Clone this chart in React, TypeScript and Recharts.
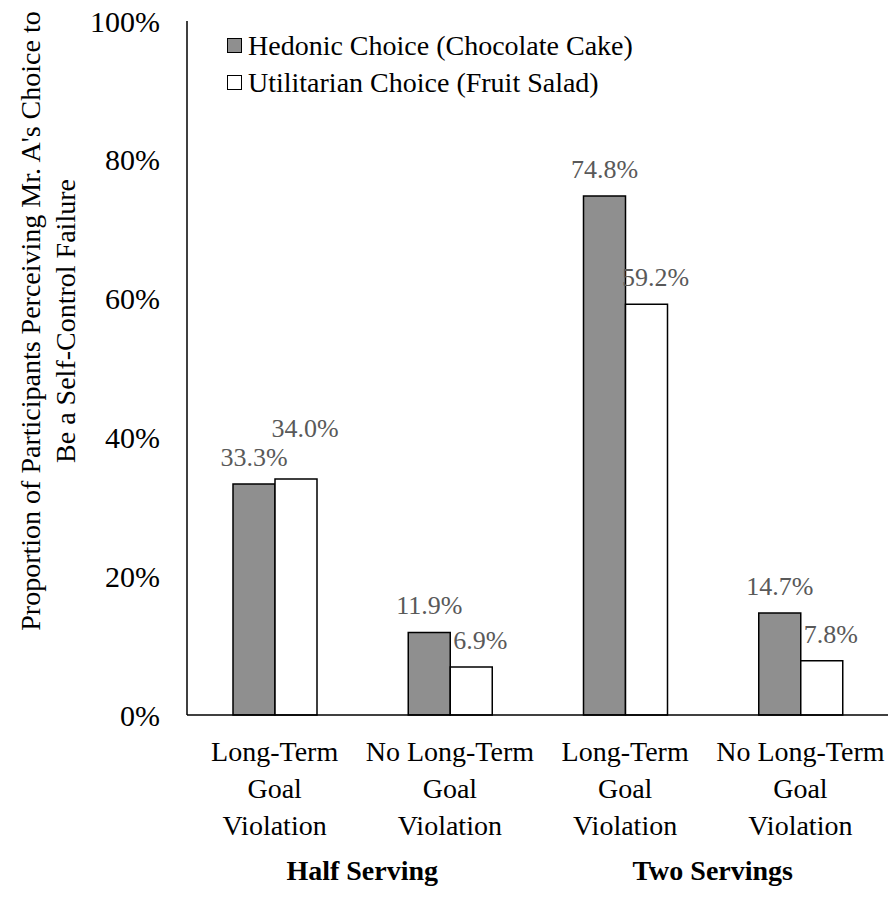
import React from "react";
import { BarChart, Bar, XAxis, YAxis, Legend, LabelList } from "recharts";

const categories = [
  "Long-Term Goal Violation",
  "No Long-Term Goal Violation",
  "Long-Term Goal Violation",
  "No Long-Term Goal Violation",
];
const tickLines = [
  ["Long-Term", "Goal", "Violation"],
  ["No Long-Term", "Goal", "Violation"],
  ["Long-Term", "Goal", "Violation"],
  ["No Long-Term", "Goal", "Violation"],
];
const groups = ["Half Serving", "Half Serving", "Two Servings", "Two Servings"];
const hedonic = [0.333, 0.119, 0.748, 0.147];
const utilitarian = [0.34, 0.069, 0.592, 0.078];
const yTicks = [0, 0.2, 0.4, 0.6, 0.8, 1];

const seriesNames = ["Hedonic Choice (Chocolate Cake)", "Utilitarian Choice (Fruit Salad)"];
const seriesFills = ["#8f8f8f", "#ffffff"];

const data = categories.map((c, i) => ({
  key: `${groups[i]}|${c}`,
  hedonic: hedonic[i],
  utilitarian: utilitarian[i],
}));

const FONT = "'Liberation Serif', 'Times New Roman', serif";

function CategoryTick(props: any) {
  const { x, y, index, width, visibleTicksCount } = props;
  const lines = tickLines[index] || [];
  let band = Number(width) / Number(visibleTicksCount);
  if (!isFinite(band) || band <= 0) band = 175.5;
  return (
    <g>
      {lines.map((l, k) => (
        <text key={k} x={x} y={y + 46 + k * 37} textAnchor="middle" fontSize={28} fontFamily={FONT} fill="#000">
          {l}
        </text>
      ))}
      {index % 2 === 0 && (
        <text x={x + band / 2} y={y + 165} textAnchor="middle" fontSize={28} fontWeight="bold" fontFamily={FONT} fill="#000">
          {groups[index]}
        </text>
      )}
    </g>
  );
}

function YTitle() {
  const cy = 321;
  return (
    <g fontFamily={FONT} fontSize={28} fill="#000">
      <text x={30} y={cy} textAnchor="middle" dominantBaseline="central" transform={`rotate(-90, 30, ${cy})`}>
        Proportion of Participants Perceiving Mr. A's Choice to
      </text>
      <text x={65} y={cy} textAnchor="middle" dominantBaseline="central" transform={`rotate(-90, 65, ${cy})`}>
        Be a Self-Control Failure
      </text>
    </g>
  );
}

const makeLabel = (which: "h" | "u") => (props: any) => {
  const { x, y, width, value, index } = props;
  let cx = Number(x) + Number(width) / 2;
  let by = Number(y) - 18;
  if (which === "u") {
    cx += 9;
    // lift the label when it would collide with the neighbouring one
    if (Math.abs(hedonic[index] - utilitarian[index]) < 0.03) by -= 24;
  }
  return (
    <text x={cx} y={by} textAnchor="middle" fontSize={26} fontFamily={FONT} fill="#595959">
      {(Number(value) * 100).toFixed(1) + "%"}
    </text>
  );
};

function LegendBox() {
  return (
    <div style={{ fontFamily: FONT, fontSize: 28, lineHeight: "37px", color: "#000", whiteSpace: "nowrap" }}>
      {seriesNames.map((n, i) => (
        <div key={n} style={{ display: "flex", alignItems: "center" }}>
          <span
            style={{
              display: "inline-block",
              width: 15,
              height: 15,
              boxSizing: "border-box",
              border: "1.5px solid #000",
              background: seriesFills[i],
              marginRight: 6,
            }}
          />
          {n}
        </div>
      ))}
    </div>
  );
}

export default function App() {
  return (
    <div style={{ position: "absolute", left: 0, top: 0, width: 891, height: 914, background: "#fff" }}>
      <BarChart width={891} height={914} data={data} margin={{ top: 21, right: 3, bottom: 0, left: 0 }} barSize={42} barGap={0}>
        <XAxis
          dataKey="key"
          height={199}
          axisLine={{ stroke: "#000", strokeWidth: 1.5 }}
          tickLine={false}
          tickSize={0}
          tickMargin={0}
          interval={0}
          tick={<CategoryTick />}
        />
        <YAxis
          width={187}
          domain={[0, 1]}
          ticks={yTicks}
          tickFormatter={(v) => `${Math.round(v * 100)}%`}
          axisLine={{ stroke: "#000", strokeWidth: 1.5 }}
          tickLine={false}
          tickSize={0}
          tickMargin={27}
          tick={{ fontSize: 30, fill: "#000", fontFamily: FONT }}
          label={{ content: () => <YTitle /> }}
        />
        <Legend
          layout="vertical"
          align="center"
          verticalAlign="middle"
          content={() => <LegendBox />}
          wrapperStyle={{ left: 227, top: 27, width: 420, height: 80 }}
        />
        <Bar dataKey="hedonic" name={seriesNames[0]} fill={seriesFills[0]} stroke="#000" strokeWidth={1.5} isAnimationActive={false}>
          <LabelList dataKey="hedonic" content={makeLabel("h")} />
        </Bar>
        <Bar dataKey="utilitarian" name={seriesNames[1]} fill={seriesFills[1]} stroke="#000" strokeWidth={1.5} isAnimationActive={false}>
          <LabelList dataKey="utilitarian" content={makeLabel("u")} />
        </Bar>
      </BarChart>
    </div>
  );
}
